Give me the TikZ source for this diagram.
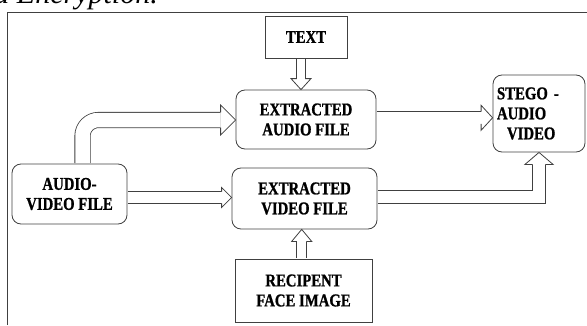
\documentclass[tikz,border=0pt]{standalone}
\usepackage{fontspec}
\setmainfont{Liberation Serif}
\newfontfamily\boxfont{Liberation Serif}[FakeStretch=0.82, BoldFeatures={FakeBold=1}]
\usetikzlibrary{calc}

\begin{document}
\begin{tikzpicture} [
    x=1pt, y=1pt,
    block/.style={rectangle, draw=black!75, line width=0.8pt, inner sep=0pt, align=center,
        font=\boxfont\bfseries\fontsize{18}{20}\selectfont},
    roundblock/.style={block, rounded corners=9pt},
    shaft/.style={draw=black!75, line width=0.8pt, double=white, double distance=#1, shorten <=0.4pt},
    pics/hhead/.style n args={3}{code={
        \filldraw[draw=black!75, fill=white, line width=0.8pt, line join=miter]
            (0,{#1/2+0.4}) -- (0,{#2/2}) -- (#3,0) -- (0,{-#2/2}) -- (0,{-#1/2-0.4});
    }},
    ]
    \useasboundingbox (0,0) rectangle (587,325);
    %Nodes
    \node[anchor=base east, inner sep=0pt, font=\itshape\fontsize{30}{36}\selectfont] (caption) at (158,321) {Data Encryption.};
    \node[block, minimum width=82pt, minimum height=42pt]       (text)  at (306,288)     {TEXT};
    \node[roundblock, minimum width=140pt, minimum height=59pt] (audio) at (306,205.5)   {EXTRACTED\\AUDIO FILE};
    \node[roundblock, text width=84pt, inner xsep=4pt, minimum height=77pt, align=left]
                                                                (stego) at (539,211.5)   {STEGO -\\AUDIO\\\hspace*{10pt}VIDEO};
    \node[roundblock, minimum width=115pt, minimum height=60pt] (av)    at (69.5,131)    {AUDIO-\\VIDEO FILE};
    \node[roundblock, minimum width=145pt, minimum height=61pt] (video) at (304.5,126.5) {EXTRACTED\\VIDEO FILE};
    \node[block, minimum width=137pt, minimum height=63pt]      (face)  at (303.5,34.5)  {RECIPENT\\FACE IMAGE};
    %Frame
    \draw[black!75, line width=0.8pt] (7,0) |- (587,312.5);
    %Lines
    \coordinate (t1) at ($(text.south)+(-5,0)$);
    \coordinate (t2) at ($(audio.north)+(-5,11)$);
    \draw[shaft=7.5pt] (t1) -- (t2);
    \pic[rotate=-90] at (t2) {hhead={7.5}{20}{11}};
    \coordinate (f1) at ($(face.north)+(-1.8,0)$);
    \coordinate (f2) at ($(video.south)+(-2.8,-12)$);
    \draw[shaft=9pt] (f1) -- (f2);
    \pic[rotate=90] at (f2) {hhead={9}{20}{12}};
    \coordinate (v1) at ($(av.east)+(0,-3.5)$);
    \coordinate (v2) at ($(video.west)+(-10,1)$);
    \draw[shaft=11pt] (v1) -- (v2);
    \pic at (v2) {hhead={11}{20}{10}};
    \coordinate (s1) at ($(audio.east)+(0,1.7)$);
    \coordinate (s2) at ($(stego.west)+(-11.5,-4.3)$);
    \draw[shaft=11.5pt] (s1) -- (s2);
    \pic at (s2) {hhead={11.5}{25}{11.5}};
    \coordinate (a1) at ($(av.north)+(13,0)$);
    \coordinate (a2) at ($(audio.west)+(-15,-0.5)$);
    \draw[shaft=14.5pt, rounded corners=16pt] (a1) |- (a2);
    \pic at (a2) {hhead={14.5}{30}{15}};
    \coordinate (b1) at ($(video.east)+(0,1.5)$);
    \coordinate (b2) at ($(stego.south)+(0,-12)$);
    \draw[shaft=12.5pt] (b1) -| (b2);
    \pic[rotate=90] at (b2) {hhead={12.5}{28}{12}};
\end{tikzpicture}
\end{document}
